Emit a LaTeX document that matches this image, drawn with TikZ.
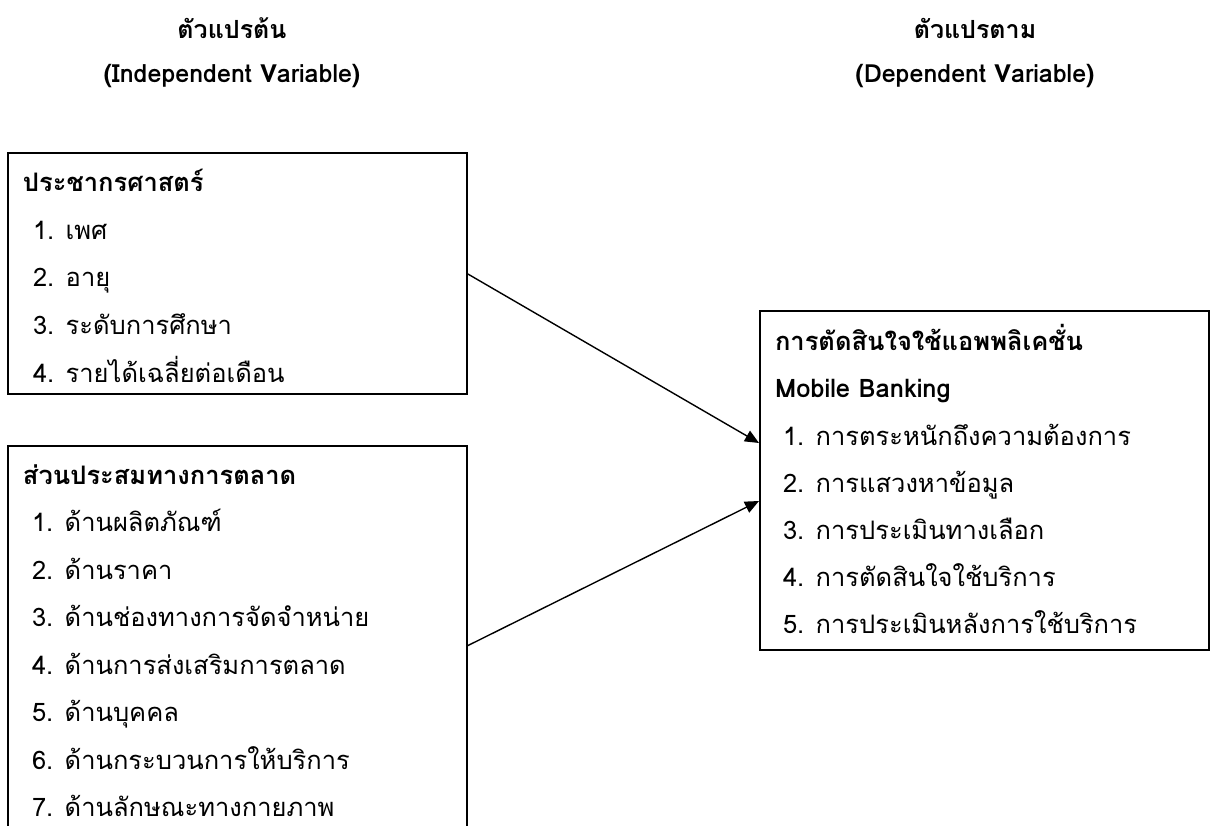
\documentclass[tikz,border=0pt]{standalone}
\usepackage{fontspec}
\setmainfont[Script=Thai]{Loma}
\usetikzlibrary{arrows.meta}
\begin{document}
\begin{tikzpicture}[x=1pt,y=-1pt,
  every node/.style={inner sep=0pt, outer sep=0pt},
  txt/.style={anchor=base west, font=\fontsize{25.5}{30}\selectfont},
  hd/.style={anchor=base west, font=\fontsize{25.5}{30}\selectfont\bfseries},
  ttl/.style={anchor=base, font=\fontsize{25}{30}\selectfont\bfseries},
  boxnode/.style={draw, line width=2.2pt, anchor=north west},
  arr/.style={line width=1.4pt, -{Triangle[length=14pt,width=12pt]}}]
\useasboundingbox (0,0) rectangle (1210,826);
% titles
\node[ttl] (ti1) at (232,39) {ตัวแปรต้น};
\node[ttl] (ti2) at (232,83) {(Independent Variable)};
\node[ttl] (tj1) at (975,39) {ตัวแปรตาม};
\node[ttl] (tj2) at (975,83) {(Dependent Variable)};
% boxes
\node[boxnode, minimum width=459pt, minimum height=241pt] (b1) at (8,153) {};
\node[boxnode, minimum width=459pt, minimum height=400pt] (b2) at (8,446) {};
\node[boxnode, minimum width=449pt, minimum height=339pt] (b3) at (760,311) {};
% box 1 text
\node[hd] (h1) at (23,192) {ประชากรศาสตร์};
\node[txt] (a1) at (33,239.5) {1. เพศ};
\node[txt] (a2) at (33,287) {2. อายุ};
\node[txt] (a3) at (33,334.5) {3. ระดับการศึกษา};
\node[txt] (a4) at (33,382) {4. รายได้เฉลี่ยต่อเดือน};
% box 2 text
\node[hd] (h2) at (23,484) {ส่วนประสมทางการตลาด};
\node[txt] (c1) at (32,531.5) {1. ด้านผลิตภัณฑ์};
\node[txt] (c2) at (32,579) {2. ด้านราคา};
\node[txt] (c3) at (32,626.5) {3. ด้านช่องทางการจัดจำหน่าย};
\node[txt] (c4) at (32,674) {4. ด้านการส่งเสริมการตลาด};
\node[txt] (c5) at (32,721.5) {5. ด้านบุคคล};
\node[txt] (c6) at (32,769) {6. ด้านกระบวนการให้บริการ};
\node[txt] (c7) at (32,816) {7. ด้านลักษณะทางกายภาพ};
% box 3 text
\node[hd] (h3) at (775,350) {การตัดสินใจใช้แอพพลิเคชั่น};
\node[hd] (h3b) at (775,397) {Mobile Banking};
\node[txt] (d1) at (783,445) {1. การตระหนักถึงความต้องการ};
\node[txt] (d2) at (783,492) {2. การแสวงหาข้อมูล};
\node[txt] (d3) at (783,539) {3. การประเมินทางเลือก};
\node[txt] (d4) at (783,586) {4. การตัดสินใจใช้บริการ};
\node[txt] (d5) at (783,633) {5. การประเมินหลังการใช้บริการ};
% arrows
\coordinate (e1) at (759,443);
\coordinate (e2) at (759,501);
\draw[arr] (b1.east) -- (e1);
\draw[arr] (b2.east) -- (e2);
\end{tikzpicture}
\end{document}
